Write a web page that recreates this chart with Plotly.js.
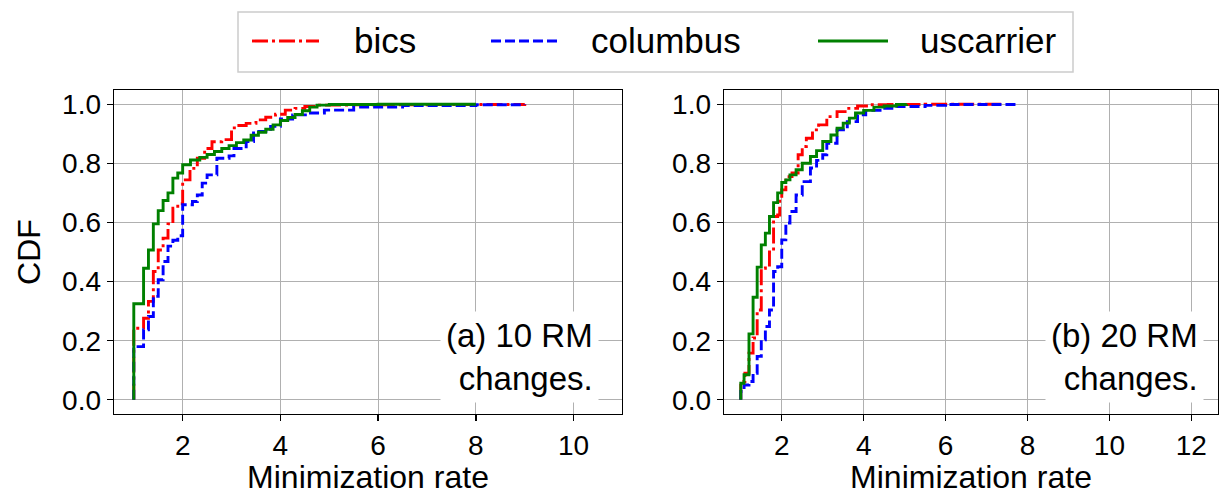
<!DOCTYPE html>
<html>
<head>
<meta charset="utf-8">
<script src="https://cdn.plot.ly/plotly-3.0.1.min.js"></script>
<style>html,body{margin:0;padding:0;background:#fff;}#chart{width:1220px;height:495px;}</style>
</head>
<body>
<div id="chart"></div>
<script>
// ---- Data ----
const seriesNames = ["bics", "columbus", "uscarrier"];
const seriesColors = ["#ff0000", "#0000ff", "#008000"];
const seriesDash = ["16px,4px,3px,4px", "10px,4px", "solid"];

// (a) 10 RM changes
const a_bics_x = [1.0, 1.0, 1.2, 1.3, 1.4, 1.5, 1.6, 1.7, 1.8, 1.9, 2.0, 2.15, 2.3, 2.45, 2.6, 2.8, 3.0, 3.15, 3.3, 3.5, 3.7, 3.9, 4.1, 4.3, 4.5, 4.8, 5.5, 7.0, 9.0];
const a_bics_y = [0, 0.242, 0.276, 0.333, 0.434, 0.507, 0.547, 0.595, 0.648, 0.663, 0.744, 0.783, 0.817, 0.85, 0.873, 0.88, 0.92, 0.928, 0.935, 0.947, 0.956, 0.966, 0.98, 0.986, 0.992, 0.997, 0.998, 0.999, 1.0];
const a_columbus_x = [1.0, 1.0, 1.2, 1.3, 1.4, 1.5, 1.6, 1.7, 1.8, 1.9, 2.0, 2.2, 2.3, 2.4, 2.5, 2.7, 2.95, 3.05, 3.3, 3.45, 3.8, 4.0, 4.25, 4.55, 4.9, 5.5, 6.5, 8.0, 9.0];
const a_columbus_y = [0, 0.18, 0.237, 0.282, 0.35, 0.406, 0.468, 0.52, 0.54, 0.555, 0.66, 0.671, 0.693, 0.733, 0.761, 0.817, 0.825, 0.85, 0.874, 0.908, 0.925, 0.95, 0.964, 0.97, 0.98, 0.99, 0.995, 0.998, 1.0];
const a_uscarrier_x = [1.0, 1.0, 1.2, 1.3, 1.4, 1.5, 1.6, 1.7, 1.8, 1.9, 2.0, 2.16, 2.35, 2.5, 2.65, 2.8, 2.95, 3.1, 3.25, 3.4, 3.55, 3.7, 3.85, 4.0, 4.15, 4.3, 4.45, 4.6, 4.75, 5.0, 6.0, 8.0];
const a_uscarrier_y = [0, 0.325, 0.445, 0.507, 0.595, 0.64, 0.674, 0.70, 0.75, 0.767, 0.795, 0.811, 0.82, 0.83, 0.84, 0.85, 0.86, 0.87, 0.879, 0.895, 0.905, 0.915, 0.93, 0.945, 0.955, 0.965, 0.978, 0.99, 0.997, 0.999, 1.0, 1.0];

// (b) 20 RM changes
const b_bics_x = [1.0, 1.0, 1.1, 1.2, 1.3, 1.4, 1.5, 1.6, 1.7, 1.8, 1.9, 1.95, 2.0, 2.1, 2.25, 2.4, 2.5, 2.6, 2.75, 2.9, 3.1, 3.35, 3.6, 3.85, 4.15, 4.6, 5.5, 7.4];
const b_bics_y = [0, 0.062, 0.09, 0.158, 0.209, 0.304, 0.445, 0.456, 0.50, 0.62, 0.625, 0.682, 0.71, 0.755, 0.767, 0.829, 0.857, 0.885, 0.913, 0.93, 0.958, 0.975, 0.986, 0.994, 0.998, 0.999, 1.0, 1.0];
const b_columbus_x = [1.0, 1.0, 1.08, 1.2, 1.3, 1.4, 1.5, 1.6, 1.7, 1.8, 1.9, 2.0, 2.1, 2.2, 2.35, 2.5, 2.7, 2.85, 3.0, 3.1, 3.35, 3.6, 3.85, 4.05, 4.4, 4.8, 5.5, 6.0, 7.8];
const b_columbus_y = [0, 0.028, 0.05, 0.062, 0.09, 0.147, 0.203, 0.248, 0.304, 0.434, 0.45, 0.541, 0.598, 0.637, 0.693, 0.738, 0.784, 0.81, 0.829, 0.868, 0.913, 0.941, 0.964, 0.979, 0.986, 0.992, 0.996, 0.999, 1.0];
const b_uscarrier_x = [1.0, 1.0, 1.08, 1.2, 1.3, 1.4, 1.5, 1.6, 1.7, 1.8, 1.9, 2.0, 2.1, 2.2, 2.35, 2.5, 2.7, 2.85, 3.0, 3.2, 3.35, 3.5, 3.65, 3.8, 4.0, 4.25, 4.5, 4.8, 5.05];
const b_uscarrier_y = [0, 0.056, 0.085, 0.223, 0.347, 0.449, 0.524, 0.564, 0.62, 0.667, 0.70, 0.735, 0.744, 0.761, 0.778, 0.80, 0.823, 0.843, 0.874, 0.896, 0.919, 0.936, 0.953, 0.97, 0.979, 0.99, 0.994, 0.999, 1.0];

const panelLabels = ["(a) 10 RM<br>changes.", "(b) 20 RM<br>changes."];
const xTitle = "Minimization rate";
const yTitle = "CDF";
const yTickVals = [0, 0.2, 0.4, 0.6, 0.8, 1.0];

// ---- Build ----
const FONT = "Liberation Sans, Arial, Helvetica, sans-serif";
const FS_TICK = 28;
const FS_TITLE = 32;
const FS_ANN = 33;
const FS_LEG = 35;
const W = 1220, H = 495;

const panels = [
  {xa: "x", ya: "y", data: [[a_bics_x, a_bics_y], [a_columbus_x, a_columbus_y], [a_uscarrier_x, a_uscarrier_y]]},
  {xa: "x2", ya: "y2", data: [[b_bics_x, b_bics_y], [b_columbus_x, b_columbus_y], [b_uscarrier_x, b_uscarrier_y]]}
];

const traces = [];
panels.forEach((p) => {
  p.data.forEach((d, i) => {
    traces.push({
      type: "scatter", mode: "lines", x: d[0], y: d[1], xaxis: p.xa, yaxis: p.ya,
      name: seriesNames[i], showlegend: false,
      line: {color: seriesColors[i], width: 2.9, dash: seriesDash[i], shape: "hv"},
      hoverinfo: "skip"
    });
  });
});

function px2x(px) { return px / W; }
function px2y(py) { return 1 - py / H; }

const axCommon = {
  showline: true, mirror: true, linecolor: "#000", linewidth: 1.4,
  ticks: "outside", ticklen: 6, tickwidth: 1.3, tickcolor: "#000",
  showgrid: true, gridcolor: "#b0b0b0", gridwidth: 1.1, zeroline: false,
  tickfont: {family: FONT, size: FS_TICK, color: "#000"}
};

const layout = {
  width: W, height: H,
  margin: {l: 0, r: 0, t: 0, b: 0},
  paper_bgcolor: "#fff", plot_bgcolor: "#fff",
  showlegend: false,
  font: {family: FONT, size: FS_TICK, color: "#000"},
  xaxis: Object.assign({}, axCommon, {
    domain: [px2x(114), px2x(622)], range: [0.595, 10.99], anchor: "y",
    tickmode: "array", tickvals: [2, 4, 6, 8, 10],
    title: {text: xTitle, font: {family: FONT, size: FS_TITLE}, standoff: 7}
  }),
  yaxis: Object.assign({}, axCommon, {
    domain: [px2y(414), px2y(90)], range: [-0.048, 1.048], anchor: "x",
    tickmode: "array", tickvals: yTickVals, tickformat: ".1f",
    title: {text: yTitle, font: {family: FONT, size: FS_TITLE}, standoff: 12}
  }),
  xaxis2: Object.assign({}, axCommon, {
    domain: [px2x(724), px2x(1218)], range: [0.59, 12.65], anchor: "y2",
    tickmode: "array", tickvals: [2, 4, 6, 8, 10, 12],
    title: {text: xTitle, font: {family: FONT, size: FS_TITLE}, standoff: 7}
  }),
  yaxis2: Object.assign({}, axCommon, {
    domain: [px2y(414), px2y(90)], range: [-0.048, 1.048], anchor: "x2",
    tickmode: "array", tickvals: yTickVals, tickformat: ".1f"
  }),
  annotations: [
    {xref: "x domain", yref: "y domain", x: 0.955, y: 0.035, xanchor: "right", yanchor: "bottom",
     text: panelLabels[0], showarrow: false, align: "right", bgcolor: "#fff", borderpad: 5,
     font: {family: FONT, size: FS_ANN, color: "#000"}},
    {xref: "x2 domain", yref: "y2 domain", x: 0.972, y: 0.035, xanchor: "right", yanchor: "bottom",
     text: panelLabels[1], showarrow: false, align: "right", bgcolor: "#fff", borderpad: 5,
     font: {family: FONT, size: FS_ANN, color: "#000"}}
  ],
  shapes: []
};

// Legend (drawn manually to match the reference layout)
const legBox = {x0: 238, x1: 1073, y0: 12, y1: 72};
layout.shapes.push({type: "rect", xref: "paper", yref: "paper",
  x0: px2x(legBox.x0), x1: px2x(legBox.x1), y0: px2y(legBox.y1), y1: px2y(legBox.y0),
  line: {color: "#cccccc", width: 1.5}, fillcolor: "rgba(255,255,255,0.8)", layer: "above"});
const legItems = [
  {l0: 252, l1: 319, t: 352},
  {l0: 491, l1: 557, t: 589},
  {l0: 818, l1: 888, t: 918}
];
const legY = 41;
legItems.forEach((it, i) => {
  layout.shapes.push({type: "line", xref: "paper", yref: "paper",
    x0: px2x(it.l0), x1: px2x(it.l1), y0: px2y(legY), y1: px2y(legY),
    line: {color: seriesColors[i], width: 2.9, dash: seriesDash[i]}, layer: "above"});
  layout.annotations.push({xref: "paper", yref: "paper", x: px2x(it.t), y: px2y(legY),
    xanchor: "left", yanchor: "middle", text: seriesNames[i], showarrow: false,
    font: {family: FONT, size: FS_LEG, color: "#000"}});
});

Plotly.newPlot("chart", traces, layout, {staticPlot: true, displayModeBar: false});
</script>
</body>
</html>
